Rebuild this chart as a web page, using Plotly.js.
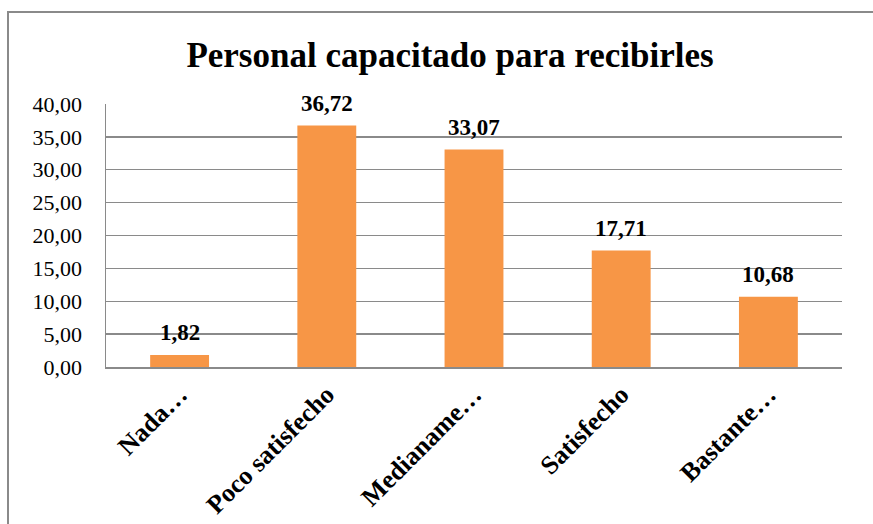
<!DOCTYPE html>
<html>
<head>
<meta charset="utf-8">
<script src="https://cdn.plot.ly/plotly-3.0.1.min.js"></script>
<style>
html,body{margin:0;padding:0;background:#fff;overflow:hidden;}
#wrap{position:relative;width:873px;height:524px;overflow:hidden;}
#chart{position:absolute;left:0;top:0;width:873px;height:524px;}
#frame{position:absolute;left:7px;top:11px;width:1200px;height:800px;border-left:2px solid #8a8a8a;border-top:2px solid #8a8a8a;pointer-events:none;}
</style>
</head>
<body>
<div id="wrap">
<div id="chart"></div>
<div id="frame"></div>
</div>
<script>
const categories = ["Nada…", "Poco satisfecho", "Medianame…", "Satisfecho", "Bastante…"];
const values = [1.82, 36.72, 33.07, 17.71, 10.68];
const valueLabels = ["1,82", "36,72", "33,07", "17,71", "10,68"];
const chartTitle = "Personal capacitado para recibirles";

const serif = "Liberation Serif";

const trace = {
  type: "bar",
  x: categories,
  y: values,
  marker: {color: "#F79646", line: {width: 0}},
  hoverinfo: "none"
};

const annotations = categories.map((c, i) => ({
  x: c, y: values[i], xref: "x", yref: "y",
  text: "<b>" + valueLabels[i] + "</b>",
  showarrow: false, yanchor: "bottom", yshift: 8,
  font: {family: serif, size: 23, color: "#000"}
}));

const layout = {
  width: 873, height: 524,
  margin: {l: 106, r: 31, t: 104, b: 157},
  paper_bgcolor: "rgba(0,0,0,0)",
  plot_bgcolor: "rgba(0,0,0,0)",
  showlegend: false,
  bargap: 0.6,
  separators: ",.",
  title: {
    text: "<b>" + chartTitle + "</b>",
    font: {family: serif, size: 35, color: "#000"},
    x: 450/873, xanchor: "center", xref: "container",
    y: 1 - 55/524, yanchor: "middle", yref: "container"
  },
  xaxis: {
    type: "category",
    tickangle: -45,
    tickfont: {family: serif, size: 26, color: "#000", weight: "bold"},
    showline: true, linecolor: "#8a8a8a", linewidth: 2,
    showgrid: false, ticks: "", zeroline: false,
    fixedrange: true
  },
  yaxis: {
    range: [0, 40], dtick: 5, tick0: 0,
    tickformat: ".2f",
    tickfont: {family: serif, size: 22, color: "#000"},
    showline: true, linecolor: "#8a8a8a", linewidth: 1.5,
    showgrid: true, gridcolor: "#8a8a8a", gridwidth: 1.3,
    zeroline: false, ticks: "", ticklabelstandoff: 18,
    fixedrange: true
  },
  annotations: annotations
};

Plotly.newPlot("chart", [trace], layout, {displayModeBar: false, staticPlot: true});
</script>
</body>
</html>
